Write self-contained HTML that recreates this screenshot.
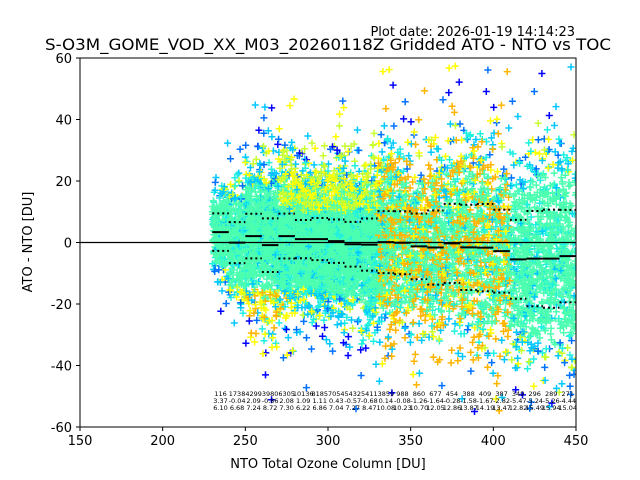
<!DOCTYPE html>
<html><head><meta charset="utf-8"><style>
html,body{margin:0;padding:0;background:#fff;overflow:hidden;width:640px;height:480px;}
svg{display:block;}
svg text{font-family:"DejaVu Sans","Liberation Sans",sans-serif;fill:#000;}
</style></head><body>
<svg id="chart" width="640" height="480" xmlns="http://www.w3.org/2000/svg">
<text x="575" y="36" font-size="13" text-anchor="end">Plot date: 2026-01-19 14:14:23</text>
<text x="328" y="50" font-size="16" text-anchor="middle" textLength="566" lengthAdjust="spacingAndGlyphs">S-O3M_GOME_VOD_XX_M03_20260118Z Gridded ATO - NTO vs TOC</text>
<defs><clipPath id="clip"><rect x="80" y="58" width="496" height="369"/></clipPath></defs>
<g id="cloud" clip-path="url(#clip)"></g>
<g id="stats" clip-path="url(#clip)"></g>
<g id="labels"></g>
<rect x="80" y="58" width="496" height="369" fill="none" stroke="#000" stroke-width="1"/>
<g id="axes"></g>
<text x="328" y="468" font-size="13" text-anchor="middle">NTO Total Ozone Column [DU]</text>
<text transform="translate(32,242) rotate(-90)" font-size="13" text-anchor="middle">ATO - NTO [DU]</text>
</svg>
<script>
const binStarts=[230,240,250,260,270,280,290,300,310,320,330,340,350,360,370,380,390,400,410,420,430,440];
const counts=[116,1738,4299,3980,6305,10136,8185,7054,5432,5411,3859,988,860,677,454,388,409,387,349,296,289,271];
const means=[3.37,-0.04,2.09,-0.86,2.08,1.09,1.11,0.43,-0.57,-0.68,0.14,-0.08,-1.26,-1.64,-0.28,-1.58,-1.67,-2.82,-5.47,-5.24,-5.26,-4.44];
const stds=[6.10,6.68,7.24,8.72,7.30,6.22,6.86,7.04,7.27,8.47,10.08,10.23,10.70,12.05,12.86,13.87,14.19,13.47,12.82,15.49,15.94,15.04];
const xTicks=[150,200,250,300,350,400,450];
const yTicks=[-60,-40,-20,0,20,40,60];
const NS="http://www.w3.org/2000/svg";
const X=v=>80+(v-150)*496/300;
const Y=v=>58+(60-v)*369/120;
function mk(tag,attrs,parent){const e=document.createElementNS(NS,tag);for(const k in attrs)e.setAttribute(k,attrs[k]);parent.appendChild(e);return e;}
const axes=document.getElementById('axes');
xTicks.forEach(t=>{
  const l=mk('line',{x1:X(t),x2:X(t),y1:427,y2:431,stroke:'#000'},axes);
  
  
  const tx=mk('text',{x:X(t),y:445,'font-size':13,'text-anchor':'middle'},axes);tx.textContent=t;
  
  
});
yTicks.forEach(t=>{
  const l=mk('line',{x1:76,x2:80,y1:Y(t),y2:Y(t),stroke:'#000'},axes);
  
  
  const tx=mk('text',{x:72,y:Y(t)+5,'font-size':13,'text-anchor':'end'},axes);tx.textContent=t;
  
  
});
// deterministic texture generator for the point cloud
let seed=12345;function rnd(){seed=(seed*1103515245+12345)&0x7fffffff;return seed/0x7fffffff;}
function gauss(){let u=rnd()||1e-9,v=rnd();return Math.sqrt(-2*Math.log(u))*Math.cos(2*Math.PI*v);}
const palette=['#0000ff','#0070ff','#00c8ff','#20f0e0','#4cffb0','#c8ff30','#ffff00','#ffb400'];
const CH=8;
const paths=[];for(let c=0;c<CH;c++)paths.push(palette.map(()=>''));
binStarts.forEach((b,i)=>{
  const n=Math.round(260+counts[i]/20);
  const spread=1.1+Math.max(0,0.3*Math.log10(counts[i]/300));
  for(let k=0;k<n;k++){
    const x=b+rnd()*10;
    let z=gauss();
    if(rnd()<0.15) z*=1.5;
    const y=means[i]+stds[i]*z*spread;
    if(y>59||y<-59) continue;
    const a=Math.abs(z);
    let c;
    const r=rnd();
    if(a>2.6) c=r<0.35?0:(r<0.65?1:2);
    else if(a>1.6) c=r<0.3?2:(r<0.6?3:(r<0.72?1:(r<0.86?5:6)));
    else c=r<0.8?4:(r<0.93?3:2);
    if(b>=330&&b<=400&&rnd()<0.35) c=rnd()<0.75?7:6;
    if(b>=270&&b<=320&&y>10&&rnd()<0.5) c=rnd()<0.6?5:6;
    if(b>=250&&b<=270&&y<-15&&rnd()<0.4) c=rnd()<0.5?6:7;
    const px=X(x),py=Y(y),s=3.5;
    paths[Math.floor(rnd()*CH)][c]+=`M${(px-s).toFixed(1)} ${py.toFixed(1)}h${2*s}M${px.toFixed(1)} ${(py-s).toFixed(1)}v${2*s}`;
  }
});
const cloud=document.getElementById('cloud');
for(let ch=0;ch<CH;ch++){
  palette.forEach((col,ci)=>{
    if(!paths[ch][ci])return;
    const p=mk('path',{d:paths[ch][ci],stroke:col,'stroke-width':1.5,fill:'none'},cloud);
    
    
  });
}
const stats=document.getElementById('stats');
const zl=mk('line',{x1:80,x2:576,y1:Y(0),y2:Y(0),stroke:'#000','stroke-width':1.2},stats);


binStarts.forEach((b,i)=>{
  const m=mk('line',{x1:X(b),x2:X(b+10),y1:Y(means[i]),y2:Y(means[i]),stroke:'#000','stroke-width':2},stats);
  
  
  [1,-1].forEach(sg=>{
    const s=mk('line',{x1:X(b),x2:X(b+10),y1:Y(means[i]+sg*stds[i]),y2:Y(means[i]+sg*stds[i]),stroke:'#000','stroke-width':2,'stroke-dasharray':'2,3'},stats);
    
    
  });
});
const labels=document.getElementById('labels');
binStarts.forEach((b,i)=>{
  const cx=X(b+5);
  [[counts[i],396],[means[i].toFixed(2),403],[stds[i].toFixed(2),410]].forEach(([v,y])=>{
    const t=mk('text',{x:cx,y:y,'font-size':6.5,'text-anchor':'middle'},labels);t.textContent=v;
    
    
  });
});
</script>
</body></html>
